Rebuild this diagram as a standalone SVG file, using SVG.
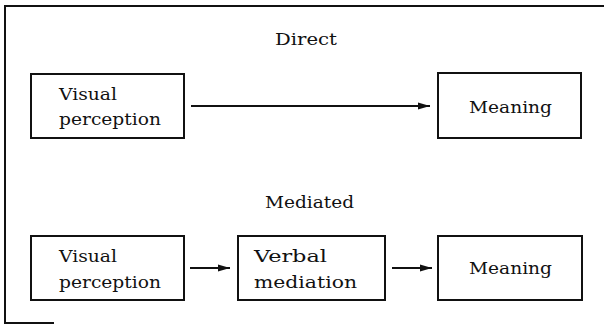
<svg xmlns="http://www.w3.org/2000/svg" width="604" height="325" viewBox="0 0 604 325">
<style>
.box{fill:#fff;stroke:#111;stroke-width:2}
.t{font-family:"DejaVu Serif","Liberation Serif",serif;font-size:17.5px;fill:#111}
.ln{stroke:#111;stroke-width:2;fill:none}
.frame{stroke:#111;stroke-width:2;fill:none}
</style>
<defs>
<marker id="ah" markerWidth="13" markerHeight="9" refX="12" refY="4.5" orient="auto" markerUnits="userSpaceOnUse">
<path d="M0,1 L12,4.5 L0,8 Z" fill="#111"/>
</marker>
</defs>
<rect width="604" height="325" fill="#fff"/>
<g id="frame">
<path class="frame" d="M604,6 H5 V323 H54"/>
</g>
<text class="t" x="275" y="45" textLength="62" lengthAdjust="spacingAndGlyphs">Direct</text>
<text class="t" x="265" y="208" textLength="89" lengthAdjust="spacingAndGlyphs">Mediated</text>
<g id="visual-direct">
<rect class="box" x="31" y="74" width="153" height="64"/>
<text class="t" x="59" y="100" textLength="58" lengthAdjust="spacingAndGlyphs">Visual</text>
<text class="t" x="59" y="125" textLength="102" lengthAdjust="spacingAndGlyphs">perception</text>
</g>
<g id="meaning-direct">
<rect class="box" x="438" y="73" width="143" height="65"/>
<text class="t" x="469" y="113" textLength="83" lengthAdjust="spacingAndGlyphs">Meaning</text>
</g>
<g id="visual-mediated">
<rect class="box" x="31" y="236" width="153" height="64"/>
<text class="t" x="59" y="262" textLength="58" lengthAdjust="spacingAndGlyphs">Visual</text>
<text class="t" x="59" y="288" textLength="102" lengthAdjust="spacingAndGlyphs">perception</text>
</g>
<g id="verbal-mediation">
<rect class="box" x="238" y="236" width="147" height="64"/>
<text class="t" x="254" y="262" textLength="73" lengthAdjust="spacingAndGlyphs">Verbal</text>
<text class="t" x="254" y="288" textLength="103" lengthAdjust="spacingAndGlyphs">mediation</text>
</g>
<g id="meaning-mediated">
<rect class="box" x="438" y="236" width="144" height="64"/>
<text class="t" x="469" y="274" textLength="83" lengthAdjust="spacingAndGlyphs">Meaning</text>
</g>
<g id="connectors">
<line class="ln" x1="191" y1="106" x2="430" y2="106" marker-end="url(#ah)"/>
<line class="ln" x1="190" y1="268" x2="230" y2="268" marker-end="url(#ah)"/>
<line class="ln" x1="392" y1="268" x2="432" y2="268" marker-end="url(#ah)"/>
</g>
</svg>
